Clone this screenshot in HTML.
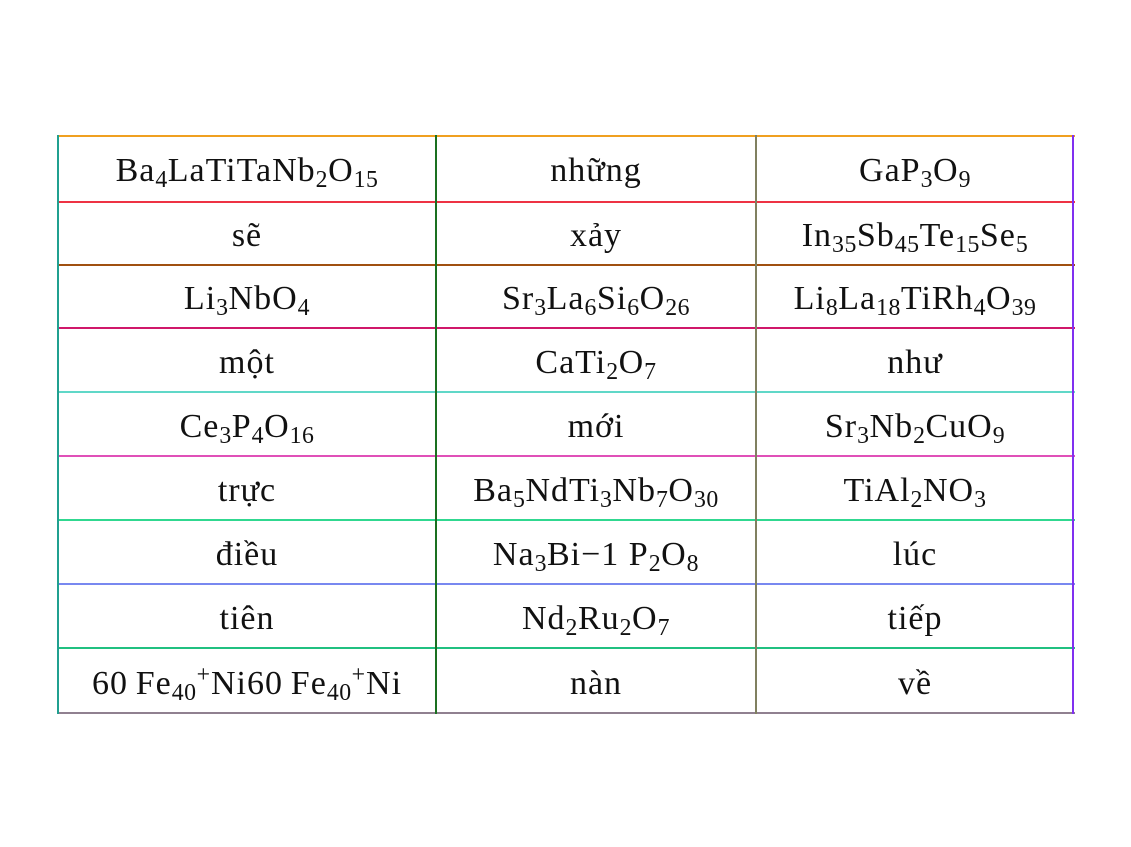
<!DOCTYPE html>
<html><head><meta charset="utf-8"><style>
body{margin:0;width:1131px;height:847px;background:#fff;position:relative;overflow:hidden;font-family:"Liberation Serif",serif;}
.h,.v{position:absolute;}
.h{height:2px;left:58px;width:1017px;}
.v{width:2px;top:135px;height:579px;}
.c{position:absolute;text-align:center;font-size:34px;letter-spacing:1px;color:#111;line-height:1;}
sub{font-size:70%;vertical-align:-0.25em;line-height:0;letter-spacing:0.5px}
sup{font-size:70%;vertical-align:0.5em;line-height:0}
</style></head><body>
<div class="h" style="top:135px;background:#f0a020"></div>
<div class="h" style="top:201px;background:#ee3344"></div>
<div class="h" style="top:264px;background:#a05010"></div>
<div class="h" style="top:327px;background:#d0186a"></div>
<div class="h" style="top:391px;background:#60d8c8"></div>
<div class="h" style="top:455px;background:#e050b8"></div>
<div class="h" style="top:519px;background:#30d890"></div>
<div class="h" style="top:583px;background:#7888f0"></div>
<div class="h" style="top:647px;background:#20c080"></div>
<div class="h" style="top:712px;background:#908090"></div>
<div class="v" style="left:57px;background:#20a090"></div>
<div class="v" style="left:435px;background:#1a7020"></div>
<div class="v" style="left:755px;background:#808060"></div>
<div class="v" style="left:1072px;background:#8030f0"></div>
<div id="cells"></div>
<script>
const rows=[
["Ba<sub>4</sub>LaTiTaNb<sub>2</sub>O<sub>15</sub>","những","GaP<sub>3</sub>O<sub>9</sub>"],
["sẽ","xảy","In<sub>35</sub>Sb<sub>45</sub>Te<sub>15</sub>Se<sub>5</sub>"],
["Li<sub>3</sub>NbO<sub>4</sub>","Sr<sub>3</sub>La<sub>6</sub>Si<sub>6</sub>O<sub>26</sub>","Li<sub>8</sub>La<sub>18</sub>TiRh<sub>4</sub>O<sub>39</sub>"],
["một","CaTi<sub>2</sub>O<sub>7</sub>","như"],
["Ce<sub>3</sub>P<sub>4</sub>O<sub>16</sub>","mới","Sr<sub>3</sub>Nb<sub>2</sub>CuO<sub>9</sub>"],
["trực","Ba<sub>5</sub>NdTi<sub>3</sub>Nb<sub>7</sub>O<sub>30</sub>","TiAl<sub>2</sub>NO<sub>3</sub>"],
["điều","Na<sub>3</sub>Bi−1 P<sub>2</sub>O<sub>8</sub>","lúc"],
["tiên","Nd<sub>2</sub>Ru<sub>2</sub>O<sub>7</sub>","tiếp"],
["60&#8201;Fe<sub>40</sub><sup>+</sup>Ni60&#8201;Fe<sub>40</sub><sup>+</sup>Ni","nàn","về"]];
const tops=[135,201,264,328,392,456,520,584,648,713];
const lefts=[58,436,756,1074];
const host=document.getElementById('cells');
rows.forEach((r,i)=>r.forEach((t,j)=>{
 const d=document.createElement('div');d.className='c';
 
 
 const y=(tops[i]+tops[i+1])/2;
 d.style.left=lefts[j]+'px';d.style.width=(lefts[j+1]-lefts[j])+'px';
 d.style.top=(y-14)+'px';d.innerHTML=t;host.appendChild(d);}));
</script>
</body></html>
